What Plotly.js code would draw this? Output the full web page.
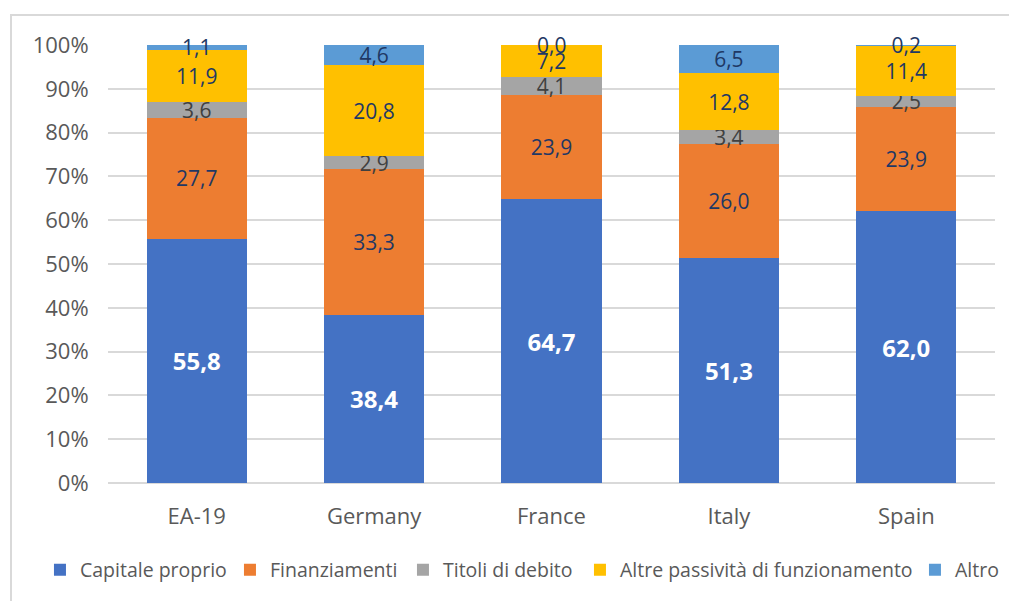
<!DOCTYPE html>
<html><head><meta charset="utf-8">
<script src="https://cdn.plot.ly/plotly-3.0.1.min.js"></script>
<style>
html,body{margin:0;padding:0;background:#fff;overflow:hidden;}
#frame{position:absolute;left:10px;top:14px;width:1100px;height:700px;border:2px solid #d9d9d9;box-sizing:border-box;}
#chart{position:absolute;left:0;top:0;width:1009px;height:601px;}
</style></head>
<body>
<div id="frame"></div>
<div id="chart"></div>
<script>
const categories = ["EA-19","Germany","France","Italy","Spain"];
const seriesNames = ["Capitale proprio","Finanziamenti","Titoli di debito","Altre passività di funzionamento","Altro"];
const capitaleProprio = [55.8, 38.4, 64.7, 51.3, 62.0];
const finanziamenti = [27.7, 33.3, 23.9, 26.0, 23.9];
const titoliDiDebito = [3.6, 2.9, 4.1, 3.4, 2.5];
const altrePassivita = [11.9, 20.8, 7.2, 12.8, 11.4];
const altro = [1.1, 4.6, 0.0, 6.5, 0.2];

const seriesValues = [capitaleProprio, finanziamenti, titoliDiDebito, altrePassivita, altro];
const colors = ["#4472C4","#ED7D31","#A5A5A5","#FFC000","#5B9BD5"];
const textColors = ["#ffffff","#1F3864","#404040","#1F3864","#1F3864"];
const legendWidths = [145, 128, 132, 290, 45];
const fontFam = "'Open Sans',sans-serif";

const fmt = v => v.toFixed(1).replace('.', ',');

const traces = seriesValues.map((vals, i) => ({
  type: 'bar',
  name: seriesNames[i],
  x: categories,
  y: vals,
  text: vals.map(fmt),
  textposition: 'inside',
  insidetextanchor: 'middle',
  constraintext: 'none',
  textangle: 0,
  cliponaxis: false,
  legendwidth: legendWidths[i],
  textfont: {family: fontFam, size: i === 0 ? 24 : 21, color: textColors[i], weight: i === 0 ? 'bold' : 'normal'},
  marker: {color: colors[i], line: {width: 0}},
  hoverinfo: 'none'
}));

// labels for zero-height segments (Plotly draws no text for them)
const annotations = [];
categories.forEach((c, j) => {
  const total = seriesValues.reduce((s, arr) => s + arr[j], 0);
  let cum = 0;
  seriesValues.forEach((arr, i) => {
    if (arr[j] === 0) {
      annotations.push({x: c, y: (cum / total) * 100, text: fmt(arr[j]), showarrow: false,
        xref: 'x', yref: 'y', font: {family: fontFam, size: 21, color: textColors[i]}});
    }
    cum += arr[j];
  });
});

const layout = {
  width: 1009, height: 601,
  paper_bgcolor: 'rgba(0,0,0,0)',
  plot_bgcolor: 'rgba(0,0,0,0)',
  margin: {l: 108, r: 14, t: 45, b: 118, autoexpand: false},
  barmode: 'stack',
  barnorm: 'percent',
  bargap: 0.436,
  separators: ',.',
  showlegend: true,
  annotations: annotations,
  legend: {orientation: 'h', x: -0.0767, xanchor: 'left',
           y: -0.1986, yanchor: 'middle',
           font: {family: fontFam, size: 19.5, color: '#595959'}, traceorder: 'normal'},
  xaxis: {showgrid: false, showline: false, zeroline: false, ticks: 'outside', ticklen: 14,
          tickcolor: 'rgba(0,0,0,0)', tickfont: {family: fontFam, size: 22, color: '#595959'}},
  yaxis: {range: [0, 100], dtick: 10, ticksuffix: '%', showgrid: true, gridcolor: '#d9d9d9', gridwidth: 2,
          zeroline: true, zerolinecolor: '#d9d9d9', zerolinewidth: 2, showline: false,
          ticks: 'outside', ticklen: 14, tickcolor: 'rgba(0,0,0,0)',
          tickfont: {family: fontFam, size: 22, color: '#595959'}}
};

Plotly.newPlot('chart', traces, layout, {displayModeBar: false, staticPlot: true});
</script>
</body></html>
